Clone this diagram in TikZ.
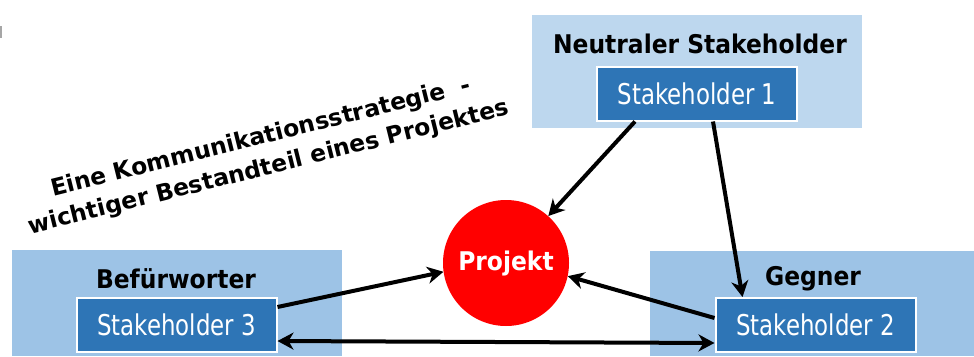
\documentclass[tikz,border=0pt]{standalone}
\usepackage{fontspec}
\setmainfont{DejaVu Sans}
\newfontfamily\tahoma[FakeStretch=0.88]{DejaVu Sans}
\usetikzlibrary{arrows.meta,calc}
\definecolor{grpTop}{HTML}{BDD7EE}
\definecolor{grpBot}{HTML}{9DC3E6}
\definecolor{shBlue}{HTML}{2E75B6}
\definecolor{projRed}{HTML}{FF0000}
\newcommand{\tall}[1]{\scalebox{1}[1.1]{#1}}
\tikzset{
  grp/.style={draw=none, fill=#1},
  grptitle/.style={font=\fontsize{23.4}{28}\selectfont\bfseries, text=black, inner sep=0pt, anchor=center},
  shbox/.style={fill=shBlue, draw=white, line width=2pt, minimum width=200pt, minimum height=54pt, inner sep=0pt,
    text=white, font=\tahoma\fontsize{26}{30}\selectfont},
  conn/.style={line width=4pt, -{Stealth[length=16pt,width=17pt,inset=5pt]}},
  conn2/.style={line width=4pt, {Stealth[length=16pt,width=17pt,inset=5pt]}-{Stealth[length=16pt,width=17pt,inset=5pt]}},
}
\begin{document}
\begin{tikzpicture}[x=1pt,y=-1pt]
\useasboundingbox (0,0) rectangle (974,356);
% small mark at left edge
\fill[gray!70] (0,26) rectangle (2,38);
% group backgrounds
\fill[grp=grpTop] (532,15) rectangle (862,128);
\fill[grp=grpBot] (12,250) rectangle (342,356);
\fill[grp=grpBot] (650,251) rectangle (974,356);
% titles
\node[grptitle] (t1) at (700,44) {\tall{Neutraler Stakeholder}};
\node[grptitle] (t3) at (176,279) {\tall{Befürworter}};
\node[grptitle] (t2) at (813,279) {\tall{Gegner}};
% stakeholder boxes
\node[shbox] (s1) at (697,93.5) {\tall{Stakeholder 1}};
\node[shbox] (s3) at (176.5,325) {\tall{Stakeholder 3}};
\node[shbox] (s2) at (815.5,325) {\tall{Stakeholder 2}};
% project circle
\node[circle, fill=projRed, minimum size=126pt, inner sep=0pt, text=white,
  font=\fontsize{23.4}{28}\selectfont\bfseries] (proj) at (506,263) {\tall{Projekt}};
% rotated caption
\node[rotate=14, align=center, font=\fontsize{23.4}{31}\selectfont\bfseries, inner sep=0pt] (cap) at (265,153)
  {Eine Kommunikationsstrategie\ \ -\\wichtiger Bestandteil eines Projektes};
% connectors
\draw[conn] ([xshift=39pt]s1.south west) -- (proj.48);
\draw[conn] ([xshift=117pt]s1.south west) -- ([xshift=28pt]s2.north west);
\draw[conn] ([yshift=-10pt]s3.north east) -- (proj.188);
\draw[conn] ([yshift=-21pt]s2.north west) -- (proj.-12);
\draw[conn2] ([yshift=12pt]s3.south east) -- ([yshift=10pt]s2.south west);
\end{tikzpicture}
\end{document}
